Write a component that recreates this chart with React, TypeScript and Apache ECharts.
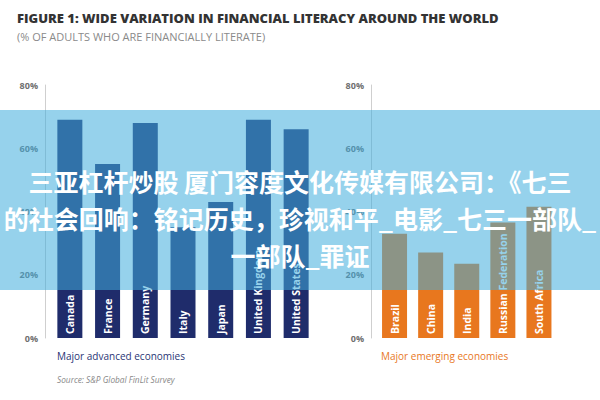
import React, { useEffect, useRef } from "react";
import * as echarts from "echarts";

const advancedCountries = ["Canada", "France", "Germany", "Italy", "Japan", "United Kingdom", "United States"];
const advancedValues = [69, 55, 68, 35, 43, 69, 66];
const emergingCountries = ["Brazil", "China", "India", "Russian Federation", "South Africa"];
const emergingValues = [33, 27, 23.5, 36.5, 41.5];

const titleText = "FIGURE 1: WIDE VARIATION IN FINANCIAL LITERACY AROUND THE WORLD";
const subtitleText = "(% OF ADULTS WHO ARE FINANCIALLY LITERATE)";
const advancedLabel = "Major advanced economies";
const emergingLabel = "Major emerging economies";
const sourceText = "Source: S&P Global FinLit Survey";
const bannerLines = [
  "三亚杠杆炒股 厦门容度文化传媒有限公司：《七三",
  "的社会回响：铭记历史，珍视和平_电影_七三一部队_",
  "一部队_罪证",
];

const NAVY = "#1f2c6b";
const ORANGE = "#e8771e";

export default function App() {
  const ref = useRef<HTMLDivElement>(null);
  useEffect(() => {
    if (!ref.current) return;
    const chart = echarts.init(ref.current, null, { renderer: "svg" });
    const yAxisCommon = (offset: number) => ({
      type: "value" as const,
      min: 0,
      max: 80,
      interval: 20,
      offset,
      axisLine: { show: true, lineStyle: { color: "#cfcfcf", width: 1 } },
      axisTick: { show: false },
      splitLine: { show: false },
      axisLabel: {
        formatter: "{value}%",
        color: "#6f6f6f",
        fontSize: 9,
        fontWeight: "bold" as const,
        fontFamily: "Open Sans",
        margin: 7,
      },
    });
    const xAxisCommon = (data: string[], gridIndex: number) => ({
      type: "category" as const,
      data,
      gridIndex,
      axisLine: { show: false },
      axisTick: { show: false },
      axisLabel: { show: false },
    });
    const barLabel = {
      show: true,
      position: "insideBottom" as const,
      rotate: 90,
      align: "left" as const,
      verticalAlign: "middle" as const,
      distance: 4,
      color: "#fff",
      fontWeight: "bold" as const,
      fontSize: 10.5,
      fontFamily: "Open Sans",
      formatter: "{b}",
    };
    chart.setOption({
      animation: false,
      grid: [
        { left: 51, top: 85, width: 264, height: 253 },
        { left: 376.5, top: 85, width: 180.5, height: 253 },
      ],
      xAxis: [xAxisCommon(advancedCountries, 0), xAxisCommon(emergingCountries, 1)],
      yAxis: [
        { ...yAxisCommon(6), gridIndex: 0 },
        { ...yAxisCommon(5.5), gridIndex: 1 },
      ],
      series: [
        {
          type: "bar",
          xAxisIndex: 0,
          yAxisIndex: 0,
          data: advancedValues,
          barWidth: 25,
          itemStyle: { color: NAVY },
          label: barLabel,
        },
        {
          type: "bar",
          xAxisIndex: 1,
          yAxisIndex: 1,
          data: emergingValues,
          barWidth: 25,
          itemStyle: { color: ORANGE },
          label: barLabel,
        },
      ],
      graphic: [
        {
          type: "text",
          left: 17,
          top: 11,
          style: {
            text: titleText,
            font: "800 13px 'Open Sans'",
            fill: "#333",
          },
        },
        {
          type: "text",
          left: 17,
          top: 31,
          style: {
            text: subtitleText,
            font: "11px 'Open Sans'",
            fill: "#8a8a8a",
          },
        },
        {
          type: "text",
          left: 57,
          top: 351,
          style: { text: advancedLabel, font: "10px 'Open Sans'", fill: "#2a3575" },
        },
        {
          type: "text",
          left: 57,
          top: 375,
          style: { text: sourceText, font: "italic 8.3px 'Open Sans'", fill: "#888" },
        },
        {
          type: "text",
          left: 381,
          top: 351,
          style: { text: emergingLabel, font: "10px 'Open Sans'", fill: ORANGE },
        },
        {
          type: "rect",
          z: 100,
          shape: { x: 0, y: 110, width: 600, height: 180 },
          style: { fill: "rgba(64,173,220,0.55)" },
        },
        ...bannerLines.map((t, i) => ({
          type: "text",
          z: 101,
          x: 300,
          y: 181 + i * 37,
          style: {
            text: t,
            font: "bold 25px 'Noto Sans CJK SC'",
            fill: "#fff",
            align: "center",
            verticalAlign: "middle",
          },
        })),
      ],
    });
    return () => chart.dispose();
  }, []);
  return (
    <div
      ref={ref}
      style={{ width: 600, height: 400, position: "fixed", left: 0, top: 0, background: "#fff" }}
    />
  );
}
